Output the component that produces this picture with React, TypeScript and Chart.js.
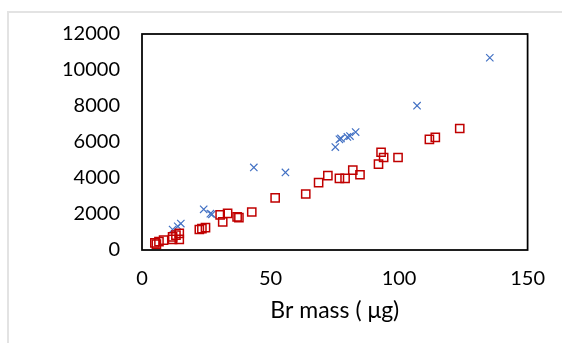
import React, { useEffect, useRef } from "react";
import { Chart, registerables } from "chart.js";

Chart.register(...registerables);

const crossX = [11.9, 13.9, 15.1, 24.0, 26.6, 27.2, 43.5, 55.8, 75.2, 76.8, 77.4, 79.9, 80.9, 83.1, 107.0, 135.3];
const crossY = [1140, 1320, 1470, 2260, 2020, 1980, 4590, 4310, 5720, 6150, 6200, 6280, 6330, 6550, 8020, 10680];

const squareX = [5.0, 5.6, 6.6, 8.4, 11.9, 11.9, 13.2, 14.5, 14.5, 22.3, 23.3, 24.7, 30.4, 31.4, 33.3, 37.0, 37.7, 42.7, 51.8, 63.7, 68.7, 72.3, 76.8, 79.0, 82.0, 84.8, 92.0, 93.0, 94.0, 99.6, 111.8, 114.1, 123.6];
const squareY = [400, 330, 460, 550, 590, 730, 830, 590, 920, 1140, 1190, 1240, 1950, 1560, 2040, 1835, 1800, 2110, 2900, 3110, 3740, 4130, 3980, 3980, 4440, 4180, 4770, 5430, 5140, 5140, 6150, 6260, 6750];

const xTitle = "Br mass ( μg)";
const xMin = 0, xMax = 150, xStep = 50;
const yMin = 0, yMax = 12000, yStep = 2000;

const framePlugin = {
  id: "frame",
  afterDatasetsDraw(chart: any) {
    const { ctx, chartArea } = chart;
    ctx.save();
    ctx.strokeStyle = "#000";
    ctx.lineWidth = 1.75;
    ctx.strokeRect(chartArea.left, chartArea.top, chartArea.right - chartArea.left, chartArea.bottom - chartArea.top);
    ctx.restore();
  },
};

export default function App() {
  const ref = useRef<HTMLCanvasElement>(null);
  useEffect(() => {
    document.body.style.margin = "0";
    const font = "Lato, 'Open Sans', sans-serif";
    const chart = new Chart(ref.current!, {
      type: "scatter",
      data: {
        datasets: [
          {
            data: squareX.map((x, i) => ({ x, y: squareY[i] })),
            pointStyle: "rect",
            pointRadius: 5.8,
            borderColor: "#C00000",
            backgroundColor: "rgba(0,0,0,0)",
            borderWidth: 1.5,
          },
          {
            data: crossX.map((x, i) => ({ x, y: crossY[i] })),
            pointStyle: "crossRot",
            pointRadius: 5.2,
            borderColor: "#4472C4",
            backgroundColor: "#4472C4",
            borderWidth: 1.2,
          },
        ],
      },
      plugins: [framePlugin],
      options: {
        animation: false,
        responsive: false,
        maintainAspectRatio: false,
        layout: { padding: { left: 0, right: 26, top: 32, bottom: 19 } },
        plugins: { legend: { display: false }, tooltip: { enabled: false } },
        scales: {
          x: {
            type: "linear",
            min: xMin,
            max: xMax,
            grid: { display: false, drawTicks: false },
            border: { display: false },
            ticks: { stepSize: xStep, padding: 17, color: "#000", font: { family: font, size: 20 }, callback: (v: any) => String(v) },
            title: { display: true, text: xTitle, color: "#000", font: { family: font, size: 23 }, padding: { top: 4, bottom: 0 } },
            afterFit(scale: any) { scale.height = 74; },
          },
          y: {
            type: "linear",
            min: yMin,
            max: yMax,
            grid: { display: false, drawTicks: false },
            border: { display: false },
            ticks: { stepSize: yStep, padding: 22, color: "#000", font: { family: font, size: 20 }, callback: (v: any) => String(v) },
            afterFit(scale: any) { scale.width = 142; },
          },
        },
      },
    });
    return () => chart.destroy();
  }, []);
  return (
    <div style={{ position: "absolute", left: 0, top: 0, width: 562, height: 343, background: "#fff" }}>
      <div style={{ position: "absolute", left: 7, top: 11, right: 0, bottom: 0, borderLeft: "2px solid #e3e3e3", borderTop: "2px solid #e3e3e3" }} />
      <canvas ref={ref} width={562} height={343} style={{ position: "absolute", left: 0, top: 0 }} />
    </div>
  );
}
